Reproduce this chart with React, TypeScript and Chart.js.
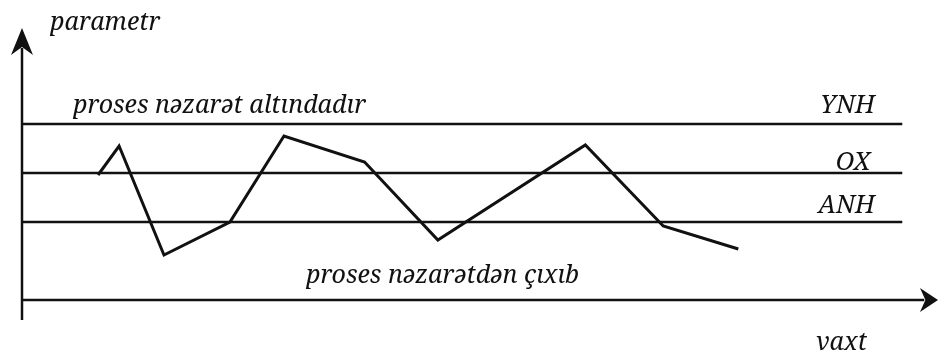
import React, { useEffect, useRef } from "react";
import { Chart, registerables } from "chart.js";

Chart.register(...registerables);

// time (x) and parameter (y) of the process curve
const timeValues = [8.3, 10.6, 15.5, 22.7, 28.6, 37.4, 45.4, 61.5, 70.0, 78.2];
const paramValues = [12.5, 15.4, 4.5, 7.8, 16.4, 13.8, 6.0, 15.5, 7.4, 5.1];

// control limits
const limitNames = ["YNH", "OX", "ANH"];
const limitValues = [17.6, 12.7, 7.8];
const limitEnd = 96.1;

// axes extents
const xAxisEnd = 100;
const yAxisStart = -2;
const yAxisEnd = 27.2;

const xAxisTitle = "vaxt";
const yAxisTitle = "parametr";
const topNote = "proses nəzarət altındadır";
const bottomNote = "proses nəzarətdən çıxıb";

const INK = "#111111";
const FONT = 'italic 25px "Noto Serif"';

const overlay = {
  id: "overlay",
  afterDatasetsDraw(chart: any) {
    const { ctx, scales } = chart;
    const X = (v: number) => scales.x.getPixelForValue(v);
    const Y = (v: number) => scales.y.getPixelForValue(v);
    ctx.save();
    ctx.fillStyle = INK;
    const head = (tx: number, ty: number, dx: number, dy: number, len: number, half: number) => {
      const nx = -dy, ny = dx;
      const bx = tx - dx * len, by = ty - dy * len;
      ctx.beginPath();
      ctx.moveTo(tx, ty);
      ctx.lineTo(bx + nx * half, by + ny * half);
      ctx.lineTo(tx - dx * len * 0.7, ty - dy * len * 0.7);
      ctx.lineTo(bx - nx * half, by - ny * half);
      ctx.closePath();
      ctx.fill();
    };
    head(X(xAxisEnd), Y(0), 1, 0, 18, 12);
    head(X(0), Y(yAxisEnd), 0, -1, 27, 11);

    ctx.font = FONT;
    ctx.textBaseline = "alphabetic";
    ctx.textAlign = "left";
    ctx.fillText(yAxisTitle, X(3.06), Y(27));
    ctx.fillText(topNote, X(5.57), Y(18.7));
    ctx.fillText(bottomNote, X(31.0), Y(1.7));
    ctx.fillText(xAxisTitle, X(86.7), Y(-5.0));
    ctx.textAlign = "right";
    const labelOffsets = [1.1, 0.3, 0.9];
    const labelRight = [93.1, 92.6, 93.1];
    limitNames.forEach((n, i) => {
      ctx.fillText(n, X(labelRight[i]), Y(limitValues[i] + labelOffsets[i]));
    });
    ctx.restore();
  },
};

export default function App() {
  const ref = useRef<HTMLCanvasElement>(null);
  useEffect(() => {
    document.body.style.margin = "0";
    const limitSets = limitValues.map((v, i) => ({
      label: limitNames[i],
      data: [
        { x: 0, y: v },
        { x: limitEnd, y: v },
      ],
      borderColor: INK,
      borderWidth: 2.5,
    }));
    const chart = new Chart(ref.current as HTMLCanvasElement, {
      type: "line",
      data: {
        datasets: [
          {
            label: "x axis",
            data: [
              { x: 0, y: 0 },
              { x: xAxisEnd - 1.5, y: 0 },
            ],
            borderColor: INK,
            borderWidth: 2.5,
          },
          {
            label: "y axis",
            data: [
              { x: 0, y: yAxisStart },
              { x: 0, y: yAxisEnd - 2 },
            ],
            borderColor: INK,
            borderWidth: 2.5,
          },
          ...limitSets,
          {
            label: "process",
            data: timeValues.map((t, i) => ({ x: t, y: paramValues[i] })),
            borderColor: INK,
            borderWidth: 3,
          },
        ],
      },
      options: {
        animation: false,
        responsive: true,
        maintainAspectRatio: false,
        devicePixelRatio: 1,
        layout: { padding: 0 },
        elements: { point: { radius: 0 }, line: { tension: 0 } },
        plugins: { legend: { display: false }, tooltip: { enabled: false } },
        scales: {
          x: { type: "linear", display: false, min: -22 / 9.16, max: 916 / 9.16 },
          y: { type: "linear", display: false, min: -5.6, max: 30 },
        },
      },
      plugins: [overlay],
    });
    return () => {
      chart.destroy();
    };
  }, []);
  return (
    <div style={{ position: "absolute", left: 0, top: 0, width: 938, height: 356, background: "#fff" }}>
      <canvas ref={ref} />
    </div>
  );
}
